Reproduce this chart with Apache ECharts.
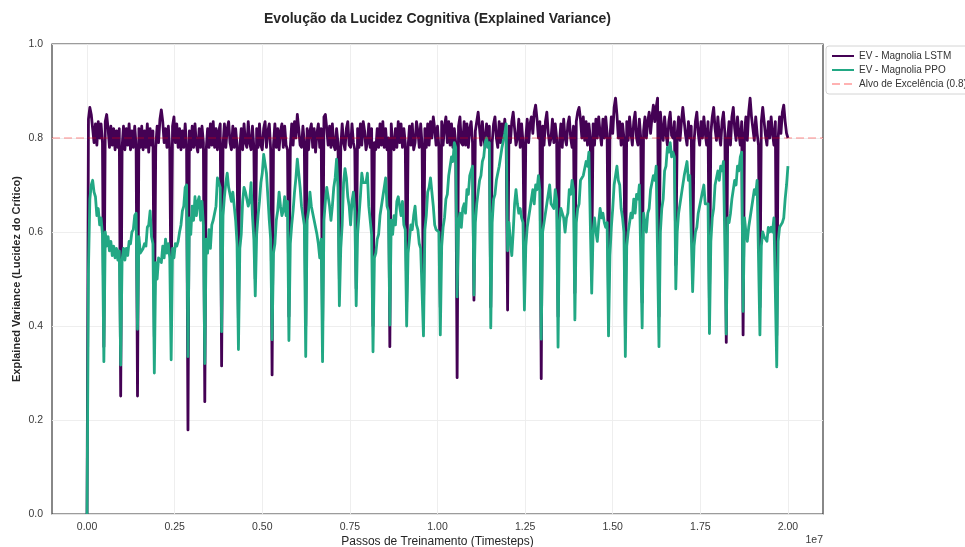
<!DOCTYPE html>
<html><head><meta charset="utf-8">
<script src="https://cdn.jsdelivr.net/npm/echarts@6/dist/echarts.min.js"></script>
<style>html,body{margin:0;padding:0;background:#fff}#c{width:965px;height:547px}</style>
</head><body><div id="c"></div>
<script>
const chartTitle = 'Evolução da Lucidez Cognitiva (Explained Variance)';
const xAxisTitle = 'Passos de Treinamento (Timesteps)';
const yAxisTitle = 'Explained Variance (Lucidez do Crítico)';
const seriesNames = ['EV - Magnolia LSTM', 'EV - Magnolia PPO', 'Alvo de Excelência (0.8)'];
const sampleEvery = 40000; // timesteps between logged values
const targetLevel = 0.8;
const xTickValues = [0, 2500000, 5000000, 7500000, 10000000, 12500000, 15000000, 17500000, 20000000];
const xRange = [-1000000, 21000000];
const yTickValues = [0, 0.2, 0.4, 0.6, 0.8, 1.0];

const lstmEV = [0,
.84,.865,.85,.82,.79,.83,.785,.835,.80,.83,.79,.356,
.835,.85,.82,.78,.825,.785,.82,.775,.815,.78,.82,.251,
.78,.825,.775,.82,.785,.83,.775,.815,.78,.825,.785,.251,
.82,.78,.825,.775,.815,.78,.83,.77,.82,.785,.815,.377,
.78,.825,.79,.84,.86,.835,.79,.82,.78,.825,.775,.44,
.825,.845,.79,.83,.78,.82,.775,.815,.78,.83,.785,.179,
.815,.775,.825,.78,.83,.785,.77,.82,.78,.825,.79,.239,
.775,.82,.78,.83,.785,.835,.78,.82,.775,.815,.83,.315,
.785,.83,.78,.82,.835,.79,.775,.825,.78,.82,.785,.40,
.78,.82,.775,.83,.79,.78,.835,.79,.775,.825,.78,.50,
.82,.78,.83,.785,.775,.82,.835,.78,.815,.83,.775,.296,
.785,.83,.78,.82,.775,.815,.83,.78,.825,.785,.775,.42,
.78,.83,.785,.835,.80,.85,.82,.785,.78,.825,.79,.40,
.82,.775,.815,.83,.78,.82,.77,.81,.83,.78,.82,.38,
.845,.85,.82,.785,.825,.78,.83,.785,.775,.82,.79,.50,
.78,.83,.79,.775,.82,.835,.785,.78,.83,.79,.775,.48,
.82,.78,.83,.785,.835,.815,.775,.79,.83,.78,.82,.40,
.79,.775,.82,.78,.83,.785,.835,.78,.82,.775,.80,.356,
.83,.785,.775,.82,.78,.835,.79,.83,.78,.82,.79,.45,
.78,.825,.785,.83,.775,.79,.835,.815,.78,.83,.785,.42,
.82,.78,.83,.785,.835,.80,.845,.82,.785,.825,.78,.44,
.835,.785,.825,.845,.79,.835,.785,.83,.78,.82,.79,.290,
.825,.845,.79,.785,.835,.785,.83,.78,.82,.835,.79,.455,
.815,.835,.855,.82,.785,.835,.80,.78,.83,.79,.825,.44,
.79,.83,.845,.80,.78,.835,.79,.83,.80,.84,.79,.434,
.825,.79,.835,.855,.82,.785,.80,.84,.78,.83,.79,.50,
.80,.84,.79,.83,.845,.81,.855,.87,.84,.80,.835,.288,
.825,.785,.835,.855,.81,.785,.80,.84,.79,.83,.80,.42,
.79,.83,.78,.84,.80,.785,.83,.845,.80,.78,.825,.47,
.835,.855,.865,.84,.80,.845,.795,.835,.785,.83,.80,.52,
.83,.785,.84,.80,.845,.81,.785,.84,.80,.845,.81,.44,
.80,.845,.81,.865,.885,.85,.80,.835,.785,.83,.80,.40,
.835,.795,.845,.81,.785,.835,.855,.80,.785,.84,.80,.45,
.815,.845,.80,.835,.855,.81,.845,.87,.835,.865,.885,.42,
.855,.82,.795,.845,.81,.785,.835,.855,.805,.80,.835,.53,
.81,.845,.795,.835,.865,.835,.805,.785,.835,.80,.825,.52,
.79,.835,.855,.81,.785,.835,.80,.845,.81,.785,.835,.44,
.81,.845,.865,.82,.795,.845,.805,.785,.835,.855,.81,.365,
.80,.835,.785,.845,.865,.82,.795,.845,.81,.785,.835,.381,
.81,.845,.795,.855,.885,.845,.82,.795,.845,.81,.785,.44,
.835,.865,.835,.805,.785,.835,.80,.845,.81,.785,.835,.38,
.80,.845,.81,.855,.87,.835,.81,.80];

const ppoEV = [0,
.52,.67,.70,.71,.685,.675,.635,.65,.615,.63,.595,.324,
.60,.57,.59,.56,.58,.55,.57,.545,.565,.54,.56,.317,
.54,.565,.54,.565,.55,.58,.575,.60,.605,.635,.64,.393,
.59,.555,.56,.565,.575,.57,.61,.615,.645,.59,.575,.300,
.535,.50,.545,.54,.535,.57,.545,.585,.555,.575,.545,.328,
.565,.545,.575,.57,.58,.60,.615,.645,.655,.695,.70,.335,
.63,.595,.655,.625,.675,.635,.665,.675,.625,.665,.615,.320,
.585,.555,.605,.565,.615,.625,.625,.655,.715,.715,.695,.388,
.635,.675,.705,.725,.695,.695,.665,.685,.655,.625,.575,.350,
.565,.595,.665,.695,.685,.685,.655,.665,.705,.635,.585,.464,
.595,.635,.665,.705,.725,.765,.765,.725,.675,.625,.585,.371,
.555,.575,.625,.645,.685,.655,.635,.645,.675,.635,.665,.369,
.575,.615,.645,.685,.715,.755,.725,.695,.655,.635,.615,.335,
.625,.645,.685,.655,.655,.625,.625,.595,.575,.545,.585,.324,
.625,.665,.695,.695,.655,.625,.655,.695,.715,.755,.695,.443,
.565,.615,.705,.735,.715,.675,.655,.615,.665,.685,.645,.443,
.595,.635,.675,.725,.705,.705,.705,.725,.655,.625,.595,.345,
.545,.555,.585,.595,.635,.635,.675,.695,.715,.655,.645,.402,
.625,.595,.635,.615,.665,.675,.675,.635,.665,.615,.605,.400,
.555,.585,.615,.605,.635,.655,.615,.605,.575,.565,.565,.379,
.605,.635,.685,.695,.715,.685,.655,.615,.605,.605,.60,.381,
.57,.61,.63,.67,.68,.72,.72,.76,.75,.79,.78,.462,
.62,.64,.61,.65,.66,.64,.69,.68,.72,.72,.74,.466,
.62,.66,.66,.71,.72,.75,.76,.79,.80,.78,.79,.396,
.62,.67,.68,.71,.71,.74,.74,.78,.78,.81,.83,.56,
.62,.58,.55,.60,.66,.69,.66,.64,.65,.63,.62,.434,
.57,.61,.61,.65,.65,.69,.66,.70,.69,.72,.69,.372,
.60,.62,.62,.66,.66,.70,.66,.66,.65,.69,.67,.355,
.62,.65,.65,.63,.60,.63,.64,.69,.68,.71,.69,.413,
.62,.65,.66,.71,.71,.72,.72,.75,.74,.77,.77,.470,
.60,.63,.60,.58,.62,.65,.63,.64,.62,.61,.62,.379,
.55,.61,.65,.70,.70,.74,.71,.70,.65,.63,.60,.335,
.57,.60,.60,.64,.63,.67,.64,.68,.67,.70,.70,.396,
.64,.62,.60,.64,.65,.69,.69,.72,.71,.74,.74,.356,
.60,.65,.67,.73,.74,.78,.77,.79,.76,.77,.76,.479,
.60,.64,.64,.68,.68,.72,.72,.75,.71,.72,.72,.473,
.57,.60,.61,.64,.64,.67,.67,.70,.66,.66,.66,.384,
.58,.63,.65,.70,.70,.73,.71,.74,.73,.75,.75,.383,
.63,.62,.64,.67,.67,.71,.70,.74,.73,.76,.77,.431,
.63,.60,.58,.61,.61,.65,.65,.69,.68,.71,.71,.381,
.57,.60,.59,.59,.58,.61,.60,.61,.60,.63,.63,.313,
.58,.61,.61,.62,.63,.67,.70,.74];

const lstmData = lstmEV.map((v, i) => [i * sampleEvery, v]);
const ppoData = ppoEV.map((v, i) => [i * sampleEvery, v]);
const targetData = [[xRange[0], targetLevel], [xRange[1], targetLevel]];

const FONT = '"Liberation Sans", Arial, sans-serif';
const chart = echarts.init(document.getElementById('c'), null, {renderer: 'canvas'});
chart.setOption({
  animation: false,
  backgroundColor: '#ffffff',
  textStyle: {fontFamily: FONT},
  grid: {left: 52, right: 142, top: 44, bottom: 33, show: true, borderColor: '#3a3a3a', borderWidth: 1.2, backgroundColor: 'transparent'},
  xAxis: {
    type: 'value', min: xRange[0], max: xRange[1],
    axisLine: {show: false},
    axisTick: {show: false, customValues: xTickValues},
    axisLabel: {customValues: xTickValues, formatter: v => (v / 1e7).toFixed(2), color: '#3a3a3a', fontSize: 10.5, margin: 8, fontFamily: FONT},
    splitLine: {show: true, lineStyle: {color: '#ececec', width: 0.9}}
  },
  yAxis: {
    type: 'value', min: 0, max: 1, interval: 0.2,
    axisLine: {show: false}, axisTick: {show: false},
    axisLabel: {formatter: v => v.toFixed(1), color: '#3a3a3a', fontSize: 10.5, margin: 9, fontFamily: FONT},
    splitLine: {show: true, lineStyle: {color: '#ececec', width: 0.9}}
  },
  legend: {
    orient: 'vertical', left: 826, top: 46, itemWidth: 22, itemHeight: 10, itemGap: 4,
    padding: [5, 6, 5, 5], borderColor: '#d4d4d4', borderWidth: 1, borderRadius: 3, backgroundColor: '#fff',
    itemStyle: {color: 'rgba(0,0,0,0)', borderColor: 'rgba(0,0,0,0)', borderWidth: 0, opacity: 0},
    textStyle: {fontSize: 10, color: '#333', fontFamily: FONT},
    data: seriesNames
  },
  series: [
    {name: seriesNames[0], type: 'line', data: lstmData, symbol: 'none', showSymbol: false, z: 2,
     lineStyle: {color: '#440154', width: 2.8, join: 'round'}, itemStyle: {color: '#440154'}},
    {name: seriesNames[1], type: 'line', data: ppoData, symbol: 'none', showSymbol: false, z: 3,
     lineStyle: {color: '#22a884', width: 2.8, join: 'round'}, itemStyle: {color: '#22a884'}},
    {name: seriesNames[2], type: 'line', data: targetData, symbol: 'none', showSymbol: false, z: 4,
     lineStyle: {color: 'rgba(255,0,0,0.3)', width: 1.5, type: [8, 4]}, itemStyle: {color: 'rgba(255,0,0,0.3)'}}
  ],
  graphic: [
    {type: 'text', z: 10, style: {text: chartTitle, x: 437.5, y: 19, textAlign: 'center', textVerticalAlign: 'middle', font: 'bold 14px ' + FONT, fill: '#262626'}},
    {type: 'text', z: 10, style: {text: xAxisTitle, x: 437.5, y: 542, textAlign: 'center', textVerticalAlign: 'middle', font: '12px ' + FONT, fill: '#262626'}},
    {type: 'text', z: 10, x: 17, y: 279, rotation: Math.PI / 2, style: {text: yAxisTitle, x: 0, y: 0, textAlign: 'center', textVerticalAlign: 'middle', font: 'bold 11px ' + FONT, fill: '#262626'}},
    {type: 'text', z: 10, style: {text: '1e7', x: 823, y: 540, textAlign: 'right', textVerticalAlign: 'middle', font: '10.5px ' + FONT, fill: '#3a3a3a'}}
  ]
});
</script></body></html>
